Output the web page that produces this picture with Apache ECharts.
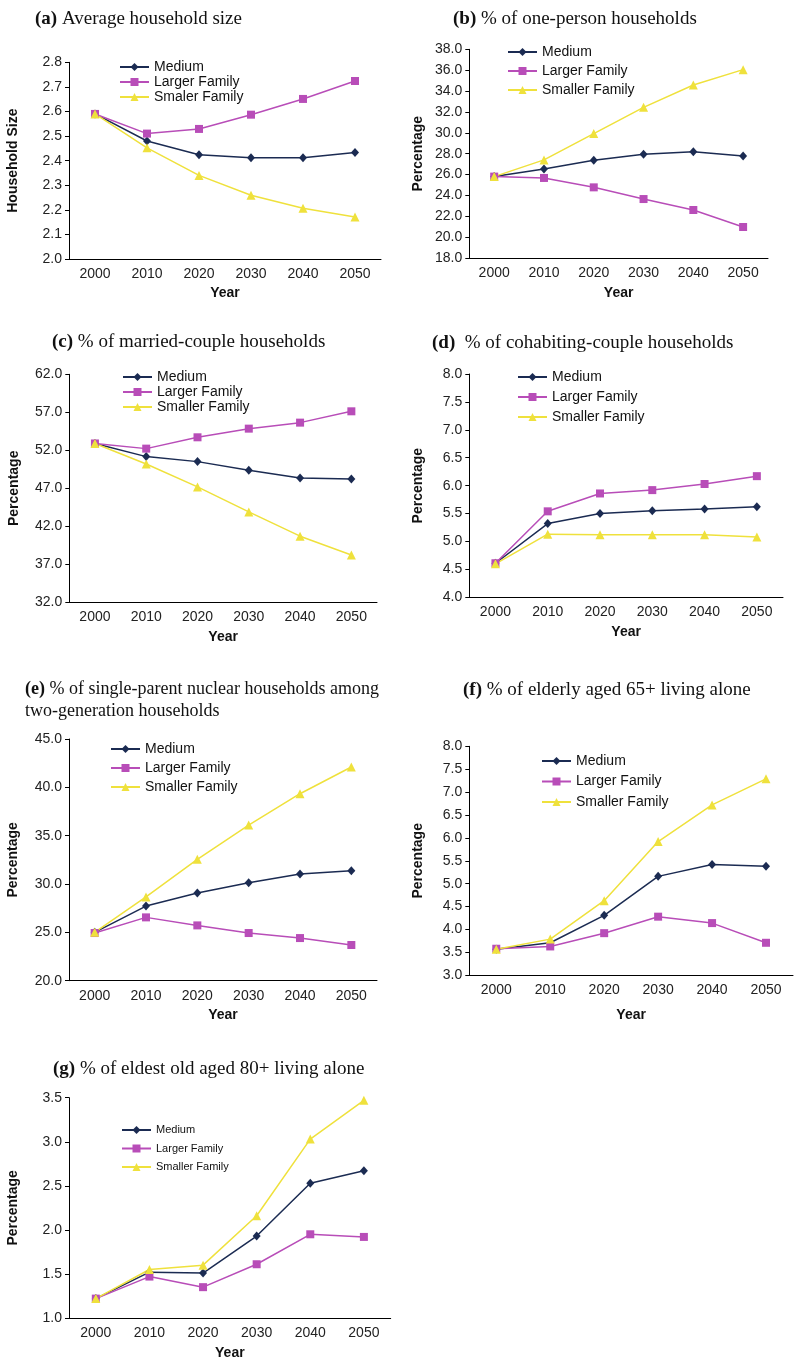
<!DOCTYPE html>
<html>
<head>
<meta charset="utf-8">
<script src="https://cdn.jsdelivr.net/npm/echarts@6/dist/echarts.min.js"></script>
<style>
html,body{margin:0;padding:0;background:#fff;}
#chart{width:794px;height:1361px;}
</style>
</head>
<body>
<div id="chart"></div>
<script>
// ---------- DATA ----------
const years = ['2000', '2010', '2020', '2030', '2040', '2050'];

// (a) Average household size
const sizeMedium  = [2.59, 2.48, 2.424, 2.412, 2.412, 2.433];
const sizeLarger  = [2.59, 2.51, 2.529, 2.587, 2.651, 2.724];
const sizeSmaller = [2.59, 2.452, 2.34, 2.259, 2.206, 2.171];
const sizeTicks   = [2.0, 2.1, 2.2, 2.3, 2.4, 2.5, 2.6, 2.7, 2.8];

// (b) % of one-person households
const onePersonMedium  = [25.8, 26.53, 27.36, 27.94, 28.19, 27.78];
const onePersonLarger  = [25.8, 25.67, 24.77, 23.65, 22.6, 20.97];
const onePersonSmaller = [25.8, 27.4, 29.92, 32.44, 34.58, 36.05];
const onePersonTicks   = [18, 20, 22, 24, 26, 28, 30, 32, 34, 36, 38];

// (c) % of married-couple households
const marriedMedium  = [52.9, 51.17, 50.51, 49.37, 48.36, 48.23];
const marriedLarger  = [52.9, 52.22, 53.71, 54.85, 55.64, 57.13];
const marriedSmaller = [52.9, 50.2, 47.18, 43.89, 40.7, 38.23];
const marriedTicks   = [32, 37, 42, 47, 52, 57, 62];

// (d) % of cohabiting-couple households
const cohabMedium  = [4.61, 5.32, 5.5, 5.55, 5.58, 5.62];
const cohabLarger  = [4.61, 5.54, 5.86, 5.92, 6.03, 6.17];
const cohabSmaller = [4.6, 5.13, 5.12, 5.12, 5.12, 5.08];
const cohabTicks   = [4.0, 4.5, 5.0, 5.5, 6.0, 6.5, 7.0, 7.5, 8.0];

// (e) % of single-parent nuclear households among two-generation households
const singleMedium  = [25.0, 27.72, 29.07, 30.14, 31.03, 31.38];
const singleLarger  = [24.93, 26.55, 25.72, 24.93, 24.41, 23.69];
const singleSmaller = [25.0, 28.66, 32.55, 36.1, 39.34, 42.1];
const singleTicks   = [20, 25, 30, 35, 40, 45];

// (f) % of elderly aged 65+ living alone
const elderlyMedium  = [3.57, 3.71, 4.31, 5.16, 5.42, 5.38];
const elderlyLarger  = [3.58, 3.63, 3.92, 4.28, 4.14, 3.71];
const elderlySmaller = [3.57, 3.79, 4.63, 5.92, 6.72, 7.29];
const elderlyTicks   = [3.0, 3.5, 4.0, 4.5, 5.0, 5.5, 6.0, 6.5, 7.0, 7.5, 8.0];

// (g) % of eldest old aged 80+ living alone
const eldestMedium  = [1.22, 1.52, 1.51, 1.93, 2.53, 2.67];
const eldestLarger  = [1.22, 1.47, 1.35, 1.61, 1.95, 1.92];
const eldestSmaller = [1.22, 1.55, 1.60, 2.16, 3.03, 3.47];
const eldestTicks   = [1.0, 1.5, 2.0, 2.5, 3.0, 3.5];

const seriesNames  = ['Medium', 'Larger Family', 'Smaller Family'];
const seriesNamesA = ['Medium', 'Larger Family', 'Smaler Family'];

const titles = [
  ['(a)', 'Average household size'],
  ['(b)', '% of one-person households'],
  ['(c)', '% of married-couple households'],
  ['(d)', ' % of cohabiting-couple households'],
  ['(e)', '% of single-parent nuclear households among\ntwo-generation households'],
  ['(f)', '% of elderly aged 65+ living alone'],
  ['(g)', '% of eldest old aged 80+ living alone']
];
const yNames = ['Household Size', 'Percentage', 'Percentage', 'Percentage', 'Percentage', 'Percentage', 'Percentage'];

// ---------- LAYOUT / STYLE ----------
const panels = [
  {vals: [sizeMedium, sizeLarger, sizeSmaller], ticks: sizeTicks, names: seriesNamesA,
   grid: {left: 69, top: 62.3, width: 312, height: 196.7},
   title: {left: 35, top: 8}, legend: {left: 119, top: 60, gap: 1, fs: 14},
   yGap: 48.5, xGap: 27},
  {vals: [onePersonMedium, onePersonLarger, onePersonSmaller], ticks: onePersonTicks, names: seriesNames,
   grid: {left: 469.3, top: 49.3, width: 298.7, height: 208.7},
   title: {left: 453, top: 8}, legend: {left: 507, top: 45, gap: 5, fs: 14},
   yGap: 44, xGap: 28},
  {vals: [marriedMedium, marriedLarger, marriedSmaller], ticks: marriedTicks, names: seriesNames,
   grid: {left: 69.3, top: 374.3, width: 307.7, height: 228},
   title: {left: 52, top: 331}, legend: {left: 122, top: 370, gap: 1, fs: 14},
   yGap: 48.5, xGap: 28},
  {vals: [cohabMedium, cohabLarger, cohabSmaller], ticks: cohabTicks, names: seriesNames,
   grid: {left: 469.3, top: 374, width: 313.7, height: 223.3},
   title: {left: 432, top: 332}, legend: {left: 517, top: 370, gap: 6, fs: 14},
   yGap: 44, xGap: 27.5},
  {vals: [singleMedium, singleLarger, singleSmaller], ticks: singleTicks, names: seriesNames,
   grid: {left: 69, top: 739, width: 308, height: 241.7},
   title: {left: 25, top: 678}, legend: {left: 110, top: 742, gap: 5, fs: 14},
   yGap: 48.5, xGap: 27},
  {vals: [elderlyMedium, elderlyLarger, elderlySmaller], ticks: elderlyTicks, names: seriesNames,
   grid: {left: 469.3, top: 746.3, width: 323.7, height: 229},
   title: {left: 463, top: 679}, legend: {left: 541, top: 754, gap: 6.5, fs: 14},
   yGap: 44, xGap: 33},
  {vals: [eldestMedium, eldestLarger, eldestSmaller], ticks: eldestTicks, names: seriesNames,
   grid: {left: 69, top: 1097.7, width: 321.7, height: 220.6},
   title: {left: 53, top: 1058}, legend: {left: 121, top: 1124.5, gap: 7.5, fs: 11},
   yGap: 48.5, xGap: 28}
];

const colors = ['#1b2b52', '#b84db8', '#efe13c'];
const symbols = ['diamond', 'rect', 'triangle'];
const symbolSizes = [[8, 9], 8, 9];
const sans = '"Liberation Sans", Arial, sans-serif';
const serif = '"Liberation Serif", "Times New Roman", serif';

const option = {
  animation: false,
  backgroundColor: '#fff',
  title: [], legend: [], grid: [], xAxis: [], yAxis: [], series: []
};

panels.forEach((p, i) => {
  option.grid.push(Object.assign({containLabel: false}, p.grid));
  const fs = i === 4 ? 18 : 19;
  option.title.push({
    left: p.title.left, top: p.title.top, padding: 0,
    text: '{b|' + titles[i][0] + '} ' + titles[i][1],
    textStyle: {
      fontFamily: serif, fontSize: fs, fontWeight: 'normal', color: '#111',
      lineHeight: 22,
      rich: {b: {fontFamily: serif, fontSize: fs, fontWeight: 'bold', color: '#111', lineHeight: 22}}
    }
  });
  option.legend.push({
    left: p.legend.left, top: p.legend.top, orient: 'vertical', padding: 0,
    itemWidth: 29, itemHeight: 10, itemGap: p.legend.gap,
    data: p.names, selectedMode: false,
    textStyle: {fontFamily: sans, fontSize: p.legend.fs, color: '#111', lineHeight: p.legend.fs}
  });
  option.xAxis.push({
    type: 'category', gridIndex: i, data: years, boundaryGap: true,
    name: 'Year', nameLocation: 'middle', nameGap: p.xGap,
    nameTextStyle: {fontFamily: sans, fontSize: 14, fontWeight: 'bold', color: '#111'},
    axisLine: {lineStyle: {color: '#000', width: 1}},
    axisTick: {inside: false, length: 4, lineStyle: {color: '#000'}},
    axisLabel: {fontFamily: sans, fontSize: 14, color: '#222', margin: 8},
    splitLine: {show: false}
  });
  option.yAxis.push({
    type: 'value', gridIndex: i,
    min: p.ticks[0], max: p.ticks[p.ticks.length - 1],
    name: yNames[i], nameLocation: 'middle', nameGap: p.yGap,
    nameTextStyle: {fontFamily: sans, fontSize: 14, fontWeight: 'bold', color: '#111'},
    axisLine: {show: true, lineStyle: {color: '#000', width: 1}},
    axisTick: {show: true, inside: false, length: 4, lineStyle: {color: '#000'}, customValues: p.ticks},
    axisLabel: {fontFamily: sans, fontSize: 14, color: '#222', margin: 7,
      customValues: p.ticks, formatter: v => Number(v).toFixed(1)},
    splitLine: {show: false}
  });
  p.vals.forEach((arr, k) => {
    option.series.push({
      type: 'line', name: p.names[k], xAxisIndex: i, yAxisIndex: i,
      data: arr, symbol: symbols[k], symbolSize: symbolSizes[k], showSymbol: true,
      color: colors[k],
      lineStyle: {color: colors[k], width: 1.5},
      itemStyle: {color: colors[k], borderWidth: 0}
    });
  });
});

const chart = echarts.init(document.getElementById('chart'), null, {renderer: 'canvas'});
chart.setOption(option);
</script>
</body>
</html>
